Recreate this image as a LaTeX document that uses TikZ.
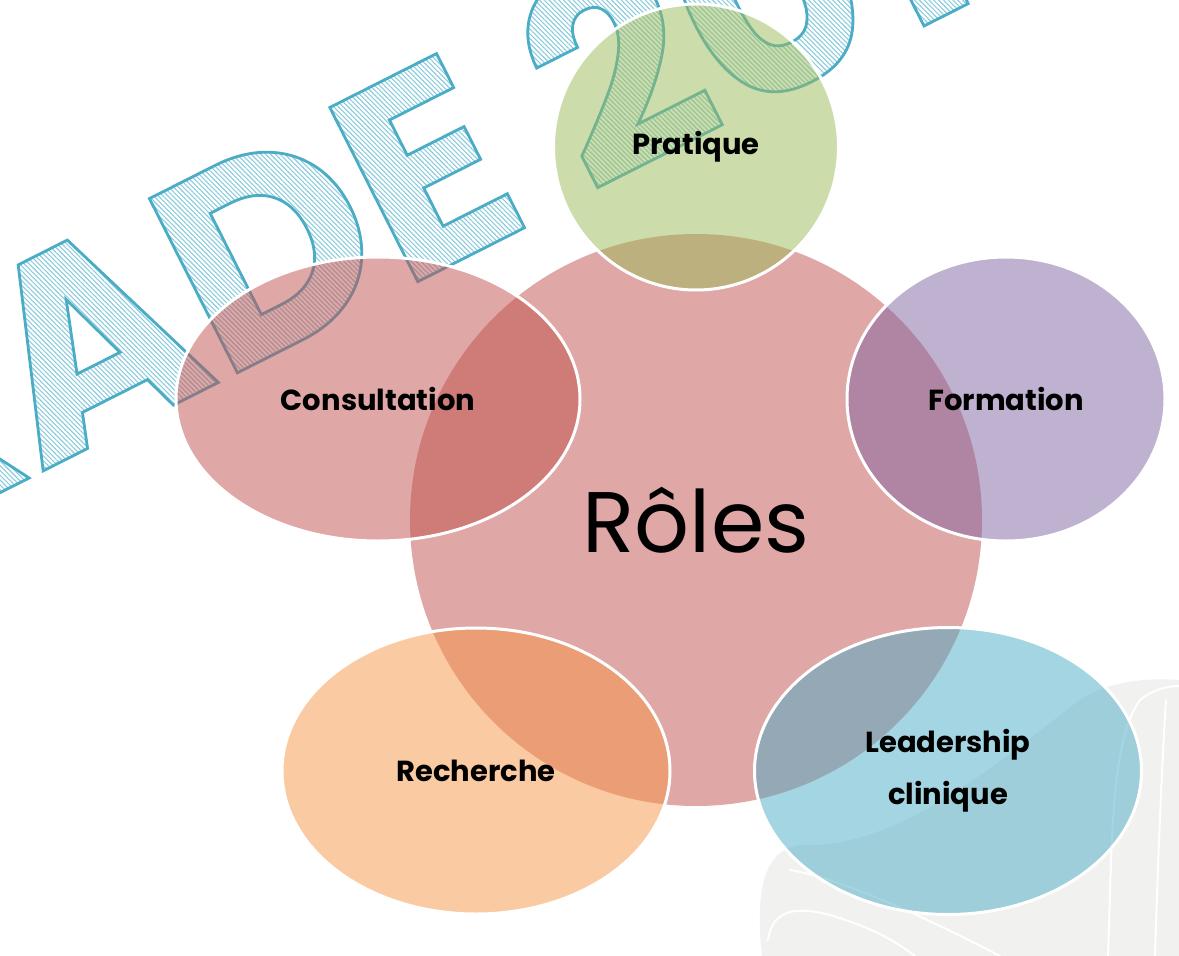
\documentclass[tikz,border=0pt]{standalone}
\usepackage{fontspec}
\setmainfont{Poppins}
\usetikzlibrary{shapes.geometric,fadings,patterns.meta}
\definecolor{accRed}{HTML}{C0504D}
\definecolor{accGreen}{HTML}{9BBB59}
\definecolor{accPurple}{HTML}{8064A2}
\definecolor{accBlue}{HTML}{4BACC6}
\definecolor{accOrange}{HTML}{F79646}
\definecolor{wmhatch}{HTML}{8CCCDD}
\definecolor{swirlgray}{HTML}{F1F1EF}
\newcommand{\wmoutline}[1]{\special{pdf:literal direct 0.294 0.675 0.776 RG 1 Tr 2.8 w}#1\special{pdf:literal direct 0 Tr}}
\tikzset{wm/.style={inner sep=0pt, rotate=26.8, font=\fontsize{278}{278}\selectfont\bfseries}}
\begin{tikzfadingfrompicture}[name=wmfade, x=1pt, y=-1pt]
  \useasboundingbox (-589.5,-478) rectangle (589.5,478);
  \node[wm, text=transparent!0, anchor=base west] (fA) at (-550.5,-5) {ADE 201};
  \node[wm, text=transparent!0, anchor=base east] (fR) at (fA.base west) {R};
\end{tikzfadingfrompicture}
\begin{document}
\begin{tikzpicture}[x=1pt,y=-1pt,
  bubble/.style={ellipse, draw=white, line width=3pt, fill opacity=0.5, draw opacity=1, text opacity=1,
    inner sep=0pt, text=black, align=center, font=\fontsize{29}{52}\selectfont\bfseries},
  swirlline/.style={white, line width=2pt, line cap=round}]
\useasboundingbox (0,0) rectangle (1179,956);
\fill[white] (0,0) rectangle (1179,956);
% background swirl
\fill[swirlgray] (762,956) .. controls (756,900) and (760,850) .. (800,845)
  .. controls (900,850) and (1000,760) .. (1080,700) .. controls (1110,680) and (1150,678) .. (1179,680)
  -- (1179,956) -- cycle;
\draw[swirlline] (1108,956) .. controls (1112,850) and (1110,740) .. (1140,700) .. controls (1155,688) and (1170,686) .. (1179,686);
\draw[swirlline] (1155,956) .. controls (1158,860) and (1162,760) .. (1166,700);
\draw[swirlline] (768,940) .. controls (772,912) and (792,905) .. (830,915) .. controls (880,930) and (900,945) .. (915,956);
\draw[swirlline] (790,870) .. controls (850,880) and (950,930) .. (1000,956);
% watermark: hatched fill through the text fading, then outline
\path[pattern={Lines[angle=-45,distance=3.4pt,line width=1.1pt]}, pattern color=wmhatch,
  path fading=wmfade, fit fading=false, fading transform={shift={(589.5pt,-478pt)}}] (0,0) rectangle (1179,956);
\node[wm, anchor=base west] (wmA) at (39,473) {\wmoutline{ADE 201}};
\node[wm, anchor=base east] (wmR) at (wmA.base west) {\wmoutline{R}};
% central circle
\node[bubble, circle, draw=none, fill=accRed, minimum size=572pt,
  font=\fontsize{86}{86}\selectfont\mdseries] (roles) at (696,520) {Rôles};
% satellites
\node[bubble, fill=accGreen, minimum width=285pt, minimum height=286pt] (prat) at (696,147) {Pratique};
\node[bubble, fill=accPurple, minimum width=318pt, minimum height=284pt] (form) at (1006,399) {Formation};
\node[bubble, fill=accRed, minimum width=404pt, minimum height=284pt] (cons) at (378,399) {Consultation};
\node[bubble, fill=accOrange, minimum width=388pt, minimum height=286pt] (rech) at (476,771) {Recherche};
\node[bubble, fill=accBlue, minimum width=387pt, minimum height=287pt] (lead) at (948,771) {Leadership\\clinique};
\end{tikzpicture}
\end{document}
